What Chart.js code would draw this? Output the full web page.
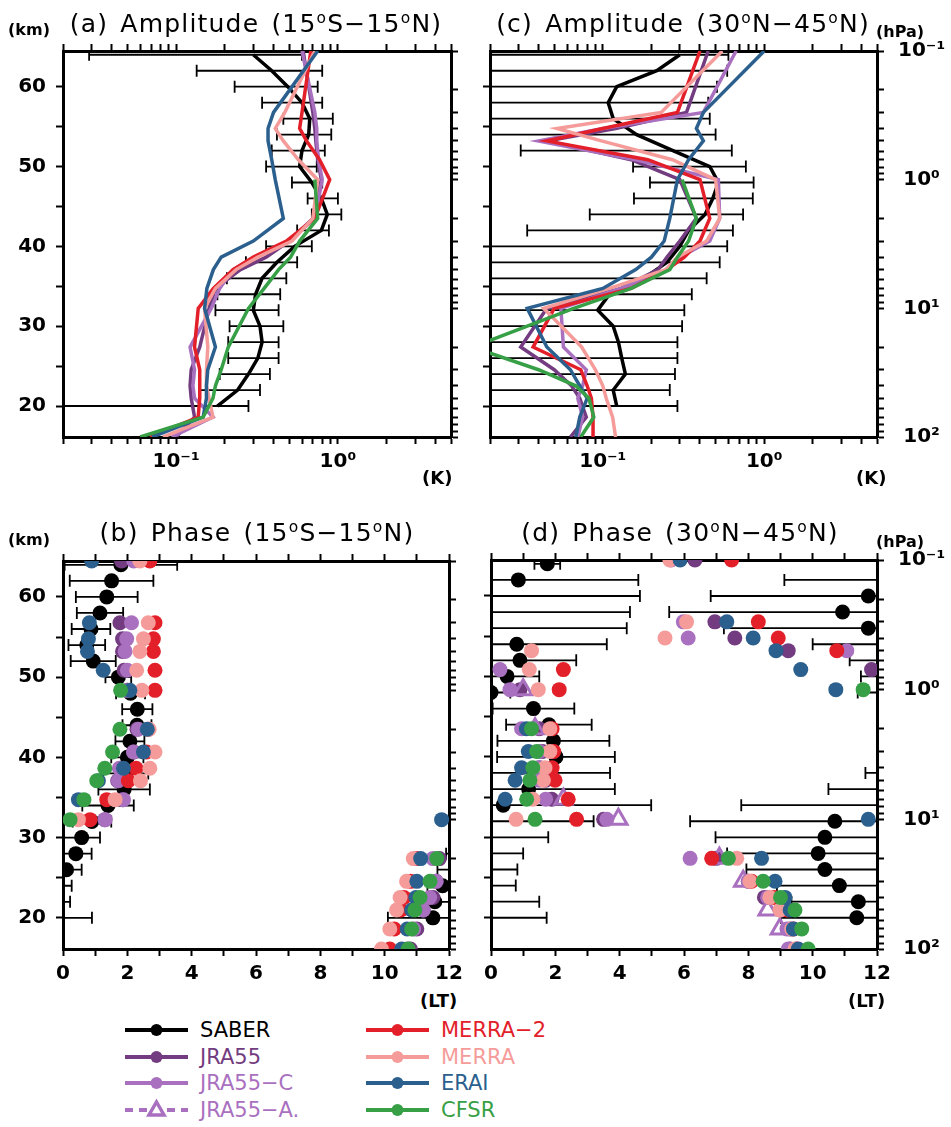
<!DOCTYPE html>
<html lang="en">
<head>
<meta charset="utf-8">
<title>Amplitude and phase profiles</title>
<script src="https://cdn.jsdelivr.net/npm/chart.js@4.4.1/dist/chart.umd.min.js"></script>
<style>
  body { margin: 0; background: #fff; }
  #page { position: relative; width: 951px; height: 1127px; font-family: 'DejaVu Sans', sans-serif; color: #000; overflow: hidden; }
  canvas { position: absolute; }
  .lbl { position: absolute; white-space: nowrap; line-height: 1; }
  .title { font-size: 25px; letter-spacing: 1.2px; word-spacing: 3px; transform: translateX(-50%); }
  .unit { font-size: 16px; font-weight: bold; }
  .unit2 { font-size: 18px; font-weight: bold; }
  sup { font-size: 62%; vertical-align: 0.6em; line-height: 0; }
  .leg { position: absolute; display: flex; align-items: center; height: 24px; font-size: 21px; white-space: nowrap; }
  .leg svg { margin-right: 10px; }
</style>
</head>
<body>
<div id="page">
  <canvas id="pa" width="475" height="490" style="left:0;top:0"></canvas>
  <canvas id="pc" width="481" height="490" style="left:470px;top:0"></canvas>
  <canvas id="pb" width="475" height="480" style="left:0;top:510px"></canvas>
  <canvas id="pd" width="481" height="480" style="left:470px;top:510px"></canvas>

  <div class="lbl title" style="left:256px;top:11px">(a) Amplitude (15<sup>o</sup>S&minus;15<sup>o</sup>N)</div>
  <div class="lbl title" style="left:683px;top:11px">(c) Amplitude (30<sup>o</sup>N&minus;45<sup>o</sup>N)</div>
  <div class="lbl title" style="left:257px;top:520px">(b) Phase (15<sup>o</sup>S&minus;15<sup>o</sup>N)</div>
  <div class="lbl title" style="left:680px;top:520px">(d) Phase (30<sup>o</sup>N&minus;45<sup>o</sup>N)</div>

  <div class="lbl unit" style="left:8px;top:22px">(km)</div>
  <div class="lbl unit" style="left:8px;top:532px">(km)</div>
  <div class="lbl unit" style="left:876px;top:24px">(hPa)</div>
  <div class="lbl unit" style="left:876px;top:534px">(hPa)</div>
  <div class="lbl unit2" style="left:422px;top:469px">(K)</div>
  <div class="lbl unit2" style="left:856px;top:469px">(K)</div>
  <div class="lbl unit2" style="left:420px;top:992px">(LT)</div>
  <div class="lbl unit2" style="left:848px;top:992px">(LT)</div>

  <div id="legend"></div>
</div>

<script>
// pressure levels (hPa) of the reanalysis profiles
const pLev = [0.1, 0.3, 0.4, 0.5, 0.7, 1, 2, 3, 4, 5, 7, 10, 20, 30, 40, 50, 70, 100];
// SABER altitude levels (km)
const sabZ = [20, 22, 24, 26, 28, 30, 32, 34, 36, 38, 40, 42, 44, 46, 48, 50, 52, 54, 56, 58, 60, 62, 64];

// tick values
const kmTicks = [20, 25, 30, 35, 40, 45, 50, 55, 60];
const ltTicks = [0, 1, 2, 3, 4, 5, 6, 7, 8, 9, 10, 11, 12];
const ampDecades = [0.01, 0.1, 1];     // labelled: 0.1, 1
const hpaDecades = [0.1, 1, 10];       // labelled: 0.1, 1, 10, 100

// ---- (a) amplitude 15S-15N (K) ----
const ampA_SABER = [0.18, 0.24, 0.28, 0.32, 0.34, 0.33, 0.30, 0.31, 0.34, 0.42, 0.54, 0.79, 0.86, 0.79, 0.69, 0.58, 0.60, 0.66, 0.67, 0.60, 0.49, 0.39, 0.30];
const ampA_lo = [0.01, 0.14, 0.186, 0.21, 0.21, 0.214, 0.175, 0.18, 0.206, 0.27, 0.36, 0.56, 0.69, 0.65, 0.52, 0.36, 0.39, 0.42, 0.46, 0.34, 0.23, 0.134, 0.029];
const ampA_hi = [0.28, 0.33, 0.38, 0.43, 0.43, 0.46, 0.43, 0.44, 0.48, 0.56, 0.69, 0.88, 1.05, 1.0, 0.80, 0.74, 0.83, 0.91, 0.93, 0.80, 0.75, 0.80, 0.60];
const ampA_JRA55  = [0.61, 0.70, 0.72, 0.73, 0.75, 0.79, 0.70, 0.50, 0.36, 0.25, 0.175, 0.16, 0.14, 0.124, 0.122, 0.124, 0.13, 0.10];
const ampA_JRA55C = [0.60, 0.72, 0.74, 0.74, 0.76, 0.80, 0.72, 0.50, 0.31, 0.225, 0.186, 0.165, 0.122, 0.13, 0.127, 0.13, 0.169, 0.094];
const ampA_MERRA2 = [0.68, 0.60, 0.58, 0.64, 0.77, 0.89, 0.72, 0.48, 0.30, 0.225, 0.17, 0.137, 0.13, 0.14, 0.14, 0.14, 0.137, 0.069];
const ampA_MERRA  = [0.72, 0.47, 0.41, 0.46, 0.57, 0.75, 0.70, 0.52, 0.32, 0.235, 0.175, 0.15, 0.157, 0.154, 0.154, 0.16, 0.169, 0.083];
const ampA_ERAI   = [0.75, 0.40, 0.37, 0.37, 0.39, 0.41, 0.46, 0.30, 0.19, 0.17, 0.155, 0.15, 0.175, 0.157, 0.154, 0.154, 0.147, 0.071];
const ampA_CFSR   = [null, null, null, null, null, 0.72, 0.75, 0.58, 0.51, 0.43, 0.35, 0.28, 0.21, 0.19, 0.175, 0.169, 0.147, 0.06];

// ---- (c) amplitude 30N-45N (K) ----
const ampC_SABER = [0.122, 0.116, 0.138, 0.131, 0.125, 0.116, 0.093, 0.11, 0.18, 0.25, 0.30, 0.34, 0.43, 0.48, 0.52, 0.46, 0.272, 0.162, 0.116, 0.108, 0.122, 0.216, 0.30];
const ampC_lo = [0.01, 0.01, 0.01, 0.01, 0.01, 0.01, 0.01, 0.01, 0.01, 0.01, 0.01, 0.034, 0.083, 0.156, 0.196, 0.154, 0.031, 0.01, 0.01, 0.01, 0.01, 0.01, 0.01];
const ampC_hi = [0.29, 0.26, 0.28, 0.29, 0.29, 0.31, 0.32, 0.356, 0.44, 0.53, 0.59, 0.64, 0.74, 0.85, 0.86, 0.77, 0.63, 0.50, 0.46, 0.45, 0.51, 0.59, 0.60];
const ampC_JRA55  = [0.45, 0.33, 0.12, 0.045, 0.15, 0.30, 0.38, 0.30, 0.25, 0.22, 0.13, 0.045, 0.031, 0.05, 0.064, 0.072, 0.079, 0.063];
const ampC_JRA55C = [0.67, 0.42, 0.10, 0.04, 0.16, 0.52, 0.53, 0.46, 0.30, 0.25, 0.13, 0.055, 0.057, 0.079, 0.075, 0.07, 0.075, 0.07];
const ampC_MERRA2 = [0.40, 0.29, 0.10, 0.045, 0.19, 0.40, 0.46, 0.40, 0.32, 0.25, 0.15, 0.05, 0.037, 0.073, 0.08, 0.085, 0.087, 0.087];
const ampC_MERRA  = [0.55, 0.23, 0.052, 0.098, 0.27, 0.50, 0.53, 0.44, 0.29, 0.245, 0.11, 0.043, 0.074, 0.09, 0.10, 0.105, 0.115, 0.12];
const ampC_ERAI   = [1.0, 0.42, 0.38, 0.42, 0.34, 0.29, 0.26, 0.24, 0.20, 0.16, 0.10, 0.034, 0.045, 0.063, 0.072, 0.08, 0.072, 0.068];
const ampC_CFSR   = [null, null, null, null, null, 0.31, 0.38, 0.34, 0.29, 0.26, 0.15, 0.066, 0.0156, 0.04, 0.068, 0.082, 0.088, 0.073];

// ---- (b) phase 15S-15N (LT) ----
const phB_SABER = [11.50, 11.56, 11.80, 0.11, 0.40, 0.58, 0.90, 1.40, 1.90, 1.95, 2.00, 2.08, 2.30, 2.31, 2.10, 1.72, 0.94, 0.74, 0.87, 1.15, 1.36, 1.51, 1.80];
const phB_err   = [1.40, 0.66, 0.47, 0.47, 0.49, 0.57, 0.60, 0.80, 0.80, 0.70, 0.50, 0.45, 0.45, 0.47, 0.45, 0.40, 0.70, 0.57, 0.60, 0.72, 0.96, 1.30, 1.75];
const phB_JRA55  = [1.82, 1.77, 1.85, 1.85, 1.90, 2.00, 2.30, 2.20, 1.80, 1.70, 1.85, 1.30, 11.70, 11.60, 11.50, 11.20, 11.00, 10.80];
const phB_JRA55C = [2.20, 2.13, 1.98, 1.93, 2.00, 2.00, 2.34, 2.19, 1.75, 1.72, 1.88, 1.31, 11.50, 11.60, 11.40, 11.20, 10.90, 10.70];
const phB_MERRA2 = [2.70, 2.86, 2.81, 2.81, 2.86, 2.86, 2.65, 2.60, 2.27, 2.03, 1.36, 0.84, 11.00, 10.80, 10.60, 10.50, 10.30, 10.16];
const phB_MERRA  = [2.39, 2.65, 2.50, 2.39, 2.29, 2.45, 2.68, 2.86, 2.70, 2.41, 1.62, 0.48, 10.89, 10.68, 10.48, 10.37, 10.16, 9.90];
const phB_ERAI   = [0.89, 0.82, 0.79, 0.76, 1.25, 2.08, 2.62, 2.50, 1.88, 1.10, 0.48, 11.77, 11.12, 11.00, 10.97, 10.84, 10.70, 10.53];
const phB_CFSR   = [null, null, null, null, null, 1.79, 1.77, 1.54, 1.30, 1.05, 0.65, 0.22, 11.62, 11.41, 11.10, 10.94, 10.84, 10.73];

// ---- (d) phase 30N-45N (LT) ----
const phD_SABER = [11.37, 11.42, 10.83, 10.38, 10.17, 10.38, 10.69, 0.38, 1.17, 1.67, 2.02, 1.94, 1.80, 1.32, 0.00, 0.50, 0.90, 0.80, 11.73, 10.93, 11.73, 0.85, 1.75];
const phD_err   = [2.36, 2.08, 1.94, 2.44, 2.83, 3.40, 4.50, 4.60, 2.68, 2.03, 1.83, 1.74, 1.33, 1.27, 0.60, 1.00, 1.75, 2.80, 4.49, 5.39, 4.90, 3.73, 0.40];
const phD_JRA55  = [6.34, 6.96, 7.58, 9.24, 11.83, 0.90, 1.50, 1.60, 1.50, 1.70, 1.89, 3.50, 7.00, 8.00, 8.50, 9.00, 9.30, 9.30];
const phD_JRA55C = [5.60, 5.98, 6.13, 11.06, 0.28, 0.59, 0.95, 1.50, 1.50, 1.50, 1.70, 3.60, 6.19, 8.00, 8.60, 9.00, 9.20, 9.24];
const phD_JRA55A = [null, null, null, null, null, 1.00, 1.37, null, null, null, 2.25, 3.96, 7.10, 7.84, null, 8.60, 8.98, null];
const phD_MERRA2 = [7.48, 8.31, 8.93, 10.75, 2.25, 2.12, 1.90, 1.95, 1.90, 1.99, 2.40, 2.66, 6.86, 8.10, 8.80, 9.20, 9.40, 9.50];
const phD_MERRA  = [5.56, 6.08, 5.41, 1.26, 1.19, 1.47, 1.83, 1.83, 1.68, 1.63, 1.30, 0.78, 7.64, 8.05, 8.67, 8.98, 9.35, 9.45];
const phD_ERAI   = [5.88, 7.33, 8.15, 8.86, 9.63, 10.72, 1.10, 1.16, 0.95, 0.75, 0.44, 11.73, 8.41, 8.83, 9.14, 9.30, 9.40, 9.55];
const phD_CFSR   = [null, null, null, null, null, 11.57, 1.26, 1.42, 1.30, 1.21, 1.11, 1.37, 7.38, 8.46, 9.00, 9.45, 9.66, 9.86];

const col = {
  SABER: '#000000', JRA55: '#733c80', JRA55C: '#a970c0', MERRA2: '#e3202a',
  MERRA: '#f59c9a', ERAI: '#2b5f8e', CFSR: '#37a046'
};
// drawing order: lower number is drawn on top
const ord = { CFSR: 0, ERAI: 1, MERRA: 2, MERRA2: 3, JRA55A: 4, JRA55C: 5, JRA55: 6, SABER: 7 };

// the km axis is pressure altitude z = H ln(1000/p), so both y scales line up
const H = 7;
const zMin = H * Math.log(1000 / 100), zMax = H * Math.log(1000 / 0.1);

function logTicks(decades, min, max) {
  const t = [];
  decades.forEach(d => { for (let m = 1; m <= 9; m++) t.push(+(m * d).toPrecision(3)); });
  t.push(+(10 * decades[decades.length - 1]).toPrecision(3));
  return t.filter(v => v >= min * 0.999 && v <= max * 1.001);
}
function sup(v) {
  const e = Math.round(Math.log10(v));
  if (Math.abs(v - Math.pow(10, e)) > 1e-9 * v) return '';
  const s = { '-1': '\u207B\u00B9', '0': '\u2070', '1': '\u00B9', '2': '\u00B2' };
  return '10' + s[String(e)];
}
function pts(vals, levs) {
  return vals.map((v, i) => v == null ? null : { x: v, y: levs[i] }).filter(Boolean);
}

const tickFont = { family: 'DejaVu Sans', size: 20, weight: 'bold' };
const frame = { display: true, width: 3, color: '#000' };
const grid = { drawOnChartArea: false, drawTicks: true, tickLength: 7, tickWidth: 2, tickColor: '#000' };
const setTicks = list => s => { s.ticks = list.map(v => ({ value: v })); };
const size = n => s => { if (s.isHorizontal()) s.height = n; else s.width = n; };

// SABER error bars, drawn under the data through the chart's own scales
const errorBars = {
  id: 'errorBars',
  beforeDatasetsDraw(chart, args, o) {
    if (!o.z) return;
    const { ctx, chartArea: a, scales } = chart;
    const xs = scales.x, ys = scales.y;
    ctx.save();
    ctx.beginPath();
    ctx.rect(a.left, a.top, a.right - a.left, a.bottom - a.top);
    ctx.clip();
    ctx.strokeStyle = '#000';
    ctx.lineWidth = 1.8;
    const seg = (y, lo, hi) => {
      const x0 = xs.getPixelForValue(lo), x1 = xs.getPixelForValue(hi);
      ctx.beginPath();
      ctx.moveTo(x0, y); ctx.lineTo(x1, y);
      ctx.moveTo(x0, y - 6); ctx.lineTo(x0, y + 6);
      ctx.moveTo(x1, y - 6); ctx.lineTo(x1, y + 6);
      ctx.stroke();
    };
    o.z.forEach((z, i) => {
      const y = ys.getPixelForValue(z);
      if (o.lo) { seg(y, o.lo[i], o.hi[i]); return; }
      // phase bars wrap around the 12 h cycle
      const lo = o.c[i] - o.e[i], hi = o.c[i] + o.e[i];
      seg(y, lo, hi);
      if (lo < 0) seg(y, lo + 12, hi + 12);
      if (hi > 12) seg(y, lo - 12, hi - 12);
    });
    ctx.restore();
  }
};

function makePanel(id, kind, box, datasets, bars, showRight) {
  const amp = kind === 'amp';
  const xBase = amp
    ? { type: 'logarithmic', min: 0.02, max: 5, afterBuildTicks: setTicks(logTicks(ampDecades, 0.02, 5)) }
    : { type: 'linear', min: 0, max: 12, afterBuildTicks: setTicks(ltTicks) };
  const xLabel = amp ? v => sup(v) : v => (v % 2 === 0 ? String(v) : '');
  new Chart(document.getElementById(id), {
    type: amp ? 'line' : 'scatter',
    data: { datasets },
    options: {
      responsive: false, animation: false, events: [],
      layout: { padding: 0 },
      plugins: { legend: { display: false }, tooltip: { enabled: false }, errorBars: bars },
      scales: {
        x: Object.assign({}, xBase, {
          axis: 'x', position: 'bottom', z: 1, border: frame, grid,
          ticks: { autoSkip: false, maxRotation: 0, font: tickFont, color: '#000', padding: 6, callback: xLabel },
          afterFit: size(box.bottom)
        }),
        x2: Object.assign({}, xBase, {
          axis: 'x', position: 'top', z: 1, border: frame, grid,
          ticks: { display: false },
          afterFit: size(box.top)
        }),
        y: {
          axis: 'y', type: 'linear', position: 'left', min: zMin, max: zMax, z: 1, border: frame, grid,
          afterBuildTicks: setTicks(kmTicks),
          ticks: { display: box.left > 40, autoSkip: false, font: tickFont, color: '#000', padding: 10,
                   callback: v => (v % 10 === 0 ? String(v) : '') },
          afterFit: size(box.left)
        },
        yp: {
          axis: 'y', type: 'logarithmic', position: 'right', reverse: true, min: 0.1, max: 100, z: 1,
          border: frame, grid,
          afterBuildTicks: setTicks(logTicks(hpaDecades, 0.1, 100)),
          ticks: { display: showRight, autoSkip: false, font: tickFont, color: '#000', padding: 14,
                   crossAlign: 'center', callback: v => sup(v) },
          afterFit: size(box.right)
        }
      }
    },
    plugins: [errorBars]
  });
}

function ampSets(sab, r) {
  const line = (key, data, yAxisID) => ({
    label: key, data, yAxisID, borderColor: col[key], borderWidth: 3.5,
    pointRadius: 0, fill: false, tension: 0, order: ord[key]
  });
  return [
    line('SABER', pts(sab, sabZ), 'y'),
    line('JRA55', pts(r.JRA55, pLev), 'yp'),
    line('JRA55C', pts(r.JRA55C, pLev), 'yp'),
    line('MERRA2', pts(r.MERRA2, pLev), 'yp'),
    line('MERRA', pts(r.MERRA, pLev), 'yp'),
    line('ERAI', pts(r.ERAI, pLev), 'yp'),
    line('CFSR', pts(r.CFSR, pLev), 'yp')
  ];
}
function phaseSets(sab, r) {
  const dots = (key, data, yAxisID) => ({
    label: key, data, yAxisID, backgroundColor: col[key], borderWidth: 0,
    pointRadius: 7.5, pointHoverRadius: 7.5, clip: 0, order: ord[key]
  });
  const sets = [
    dots('SABER', pts(sab, sabZ), 'y'),
    dots('JRA55', pts(r.JRA55, pLev), 'yp'),
    dots('JRA55C', pts(r.JRA55C, pLev), 'yp'),
    dots('MERRA2', pts(r.MERRA2, pLev), 'yp'),
    dots('MERRA', pts(r.MERRA, pLev), 'yp'),
    dots('ERAI', pts(r.ERAI, pLev), 'yp'),
    dots('CFSR', pts(r.CFSR, pLev), 'yp')
  ];
  if (r.JRA55A) {
    sets.push({
      label: 'JRA55A', data: pts(r.JRA55A, pLev), yAxisID: 'yp', pointStyle: 'triangle',
      pointRadius: 10, pointBorderWidth: 3, pointBorderColor: col.JRA55C,
      pointBackgroundColor: 'rgba(255,255,255,0)', clip: 0, order: ord.JRA55A
    });
  }
  return sets;
}

makePanel('pa', 'amp', { left: 63, top: 51, right: 24, bottom: 53 },
  ampSets(ampA_SABER, { JRA55: ampA_JRA55, JRA55C: ampA_JRA55C, MERRA2: ampA_MERRA2, MERRA: ampA_MERRA, ERAI: ampA_ERAI, CFSR: ampA_CFSR }),
  { z: sabZ, lo: ampA_lo, hi: ampA_hi }, false);
makePanel('pc', 'amp', { left: 20, top: 51, right: 74, bottom: 53 },
  ampSets(ampC_SABER, { JRA55: ampC_JRA55, JRA55C: ampC_JRA55C, MERRA2: ampC_MERRA2, MERRA: ampC_MERRA, ERAI: ampC_ERAI, CFSR: ampC_CFSR }),
  { z: sabZ, lo: ampC_lo, hi: ampC_hi }, true);
makePanel('pb', 'phase', { left: 63, top: 51, right: 26, bottom: 41 },
  phaseSets(phB_SABER, { JRA55: phB_JRA55, JRA55C: phB_JRA55C, MERRA2: phB_MERRA2, MERRA: phB_MERRA, ERAI: phB_ERAI, CFSR: phB_CFSR }),
  { z: sabZ, c: phB_SABER, e: phB_err }, false);
makePanel('pd', 'phase', { left: 21, top: 50, right: 74, bottom: 41 },
  phaseSets(phD_SABER, { JRA55: phD_JRA55, JRA55C: phD_JRA55C, JRA55A: phD_JRA55A, MERRA2: phD_MERRA2, MERRA: phD_MERRA, ERAI: phD_ERAI, CFSR: phD_CFSR }),
  { z: sabZ, c: phD_SABER, e: phD_err }, true);

// legend
const legendItems = [
  { name: 'SABER', c: col.SABER, x: 124, y: 1030 },
  { name: 'JRA55', c: col.JRA55, x: 124, y: 1057 },
  { name: 'JRA55\u2212C', c: col.JRA55C, x: 124, y: 1083 },
  { name: 'JRA55\u2212A.', c: col.JRA55C, x: 124, y: 1110, tri: true },
  { name: 'MERRA\u22122', c: col.MERRA2, x: 365, y: 1030 },
  { name: 'MERRA', c: col.MERRA, x: 365, y: 1057 },
  { name: 'ERAI', c: col.ERAI, x: 365, y: 1083 },
  { name: 'CFSR', c: col.CFSR, x: 365, y: 1110 }
];
const leg = document.getElementById('legend');
legendItems.forEach(it => {
  const mark = it.tri
    ? `<line x1="1" y1="12" x2="64" y2="12" stroke="${it.c}" stroke-width="4" stroke-dasharray="8 6"/>` +
      `<polygon points="32.5,4 40,17 25,17" fill="#fff" stroke="${it.c}" stroke-width="3.5"/>`
    : `<line x1="1" y1="12" x2="64" y2="12" stroke="${it.c}" stroke-width="4"/>` +
      `<circle cx="32.5" cy="12" r="6" fill="${it.c}"/>`;
  const d = document.createElement('div');
  d.className = 'leg';
  d.style.left = it.x + 'px';
  d.style.top = (it.y - 12) + 'px';
  d.style.color = it.c;
  d.innerHTML = `<svg width="66" height="24">${mark}</svg><span>${it.name}</span>`;
  leg.appendChild(d);
});
</script>
</body>
</html>
